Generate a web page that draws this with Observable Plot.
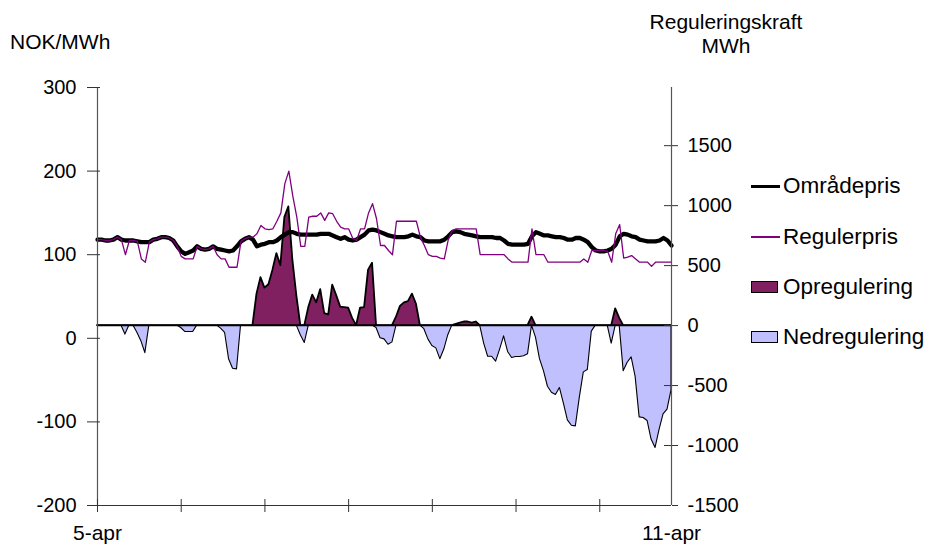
<!DOCTYPE html>
<html>
<head>
<meta charset="utf-8">
<script src="https://cdn.jsdelivr.net/npm/d3@7"></script>
<script src="https://cdn.jsdelivr.net/npm/@observablehq/plot@0.6"></script>
<style>
  body { margin: 0; background: #fff; }
  #wrap { position: relative; width: 931px; height: 545px; font-family: "Liberation Sans", Arial, sans-serif; color: #000; }
  #wrap svg { position: absolute; left: 0; top: 0; }
  .t { position: absolute; white-space: nowrap; font-size: 21px; line-height: 24px; }
  .leg { position: absolute; left: 751px; height: 30px; display: flex; align-items: center; font-size: 22.5px; white-space: nowrap; }
  .sw { width: 29px; margin-right: 3px; box-sizing: border-box; }
</style>
</head>
<body>
<div id="wrap">
  <div class="t" style="left:10px; top:30px;">NOK/MWh</div>
  <div class="t" style="left:626px; top:10px; width:200px; text-align:center;">Reguleringskraft<br>MWh</div>
  <div class="leg" style="top:171px;"><div class="sw" style="height:3px; background:#000;"></div>Områdepris</div>
  <div class="leg" style="top:222px;"><div class="sw" style="height:1.5px; background:#800080;"></div>Regulerpris</div>
  <div class="leg" style="top:272px;"><div class="sw" style="width:27px; margin-right:5px; height:12px; background:#802060; border:1px solid #000;"></div>Opregulering</div>
  <div class="leg" style="top:322px;"><div class="sw" style="width:27px; margin-right:5px; height:12px; background:#c0c0ff; border:1px solid #000;"></div>Nedregulering</div>
</div>
<script>
// Hourly series, 5 April 00:00 through 11 April 00:00 (145 hours)
const hours = d3.range(0, 145);

// Area price (NOK/MWh)
const omradepris = [
  118,118,117,117,118,121,118,117,117,117,
  116,115,115,115,118,119,121,121,120,117,
  110,104,101,103,105,110,107,106,107,110,
  107,106,105,104,105,110,116,119,121,118,
  110,112,113,115,115,117,121,124,127,127,
  125,124,124,124,124,124,125,125,125,123,
  121,119,121,118,117,118,121,124,129,130,
  129,127,125,123,122,121,121,121,122,124,
  122,121,117,116,116,116,116,118,122,127,
  128,127,125,124,123,122,121,121,121,121,
  120,120,117,113,112,112,112,112,113,122,
  127,125,123,123,122,121,121,120,118,118,
  120,120,118,115,109,105,104,104,105,107,
  112,122,125,124,122,121,118,117,116,116,
  116,117,120,117,111
];

// Balancing price (NOK/MWh)
const regulerpris = [
  118,118,117,117,118,121,118,100,117,117,
  116,95,91,115,118,119,121,121,120,117,
  110,98,95,95,95,110,107,106,107,110,
  100,95,95,85,85,85,116,119,121,121,
  125,135,131,130,131,140,150,185,200,170,
  145,110,110,145,146,146,150,141,150,149,
  140,133,131,131,120,117,131,131,150,161,
  143,111,111,105,100,140,140,140,140,140,
  140,121,111,100,98,98,96,95,118,129,
  131,131,131,131,131,131,100,100,100,100,
  100,100,100,95,91,91,91,91,91,131,
  100,100,100,91,91,91,91,91,91,91,
  91,91,95,91,105,105,105,105,104,91,
  125,136,96,97,99,95,91,91,91,86,
  91,91,91,91,91
];

// Upward regulation (MWh)
const opregulering = [
  0,0,0,0,0,0,0,0,0,0,
  0,0,0,0,0,0,0,0,0,0,
  0,0,0,0,0,0,0,0,0,0,
  0,0,0,0,0,0,0,0,0,0,
  260,400,312,340,460,600,500,900,990,550,
  250,0,0,150,254,190,300,100,90,337,
  250,154,150,146,60,0,146,150,462,520,
  0,0,0,0,0,70,160,190,200,262,
  180,0,0,0,0,0,0,0,0,0,
  10,20,30,30,20,30,0,0,0,0,
  0,0,0,0,0,0,0,0,0,70,
  0,0,0,0,0,0,0,0,0,0,
  0,0,0,0,0,0,0,0,0,0,
  140,60,0,0,0,0,0,0,0,0,
  0,0,0,0,0
];

// Downward regulation (MWh)
const nedregulering = [
  0,0,0,0,0,0,0,-75,0,0,
  -60,-130,-230,0,0,0,0,0,0,0,
  0,-20,-53,-53,-53,0,0,0,0,0,
  0,-25,-60,-280,-360,-365,0,0,0,0,
  0,0,0,0,0,0,0,0,0,0,
  0,-80,-145,0,0,0,0,0,0,0,
  0,0,0,0,0,0,0,0,0,0,
  -20,-105,-115,-160,-140,0,0,0,0,0,
  0,0,-30,-115,-170,-190,-280,-200,-80,0,
  0,0,0,0,0,0,0,-150,-260,-260,
  -300,-200,-90,-220,-270,-262,-262,-255,-240,0,
  -100,-280,-380,-510,-560,-578,-520,-650,-790,-835,
  -840,-600,-390,-371,-50,0,0,0,0,-150,
  0,0,-380,-310,-265,-428,-765,-770,-795,-950,
  -1020,-870,-740,-700,-540
];

// Axis ticks and labels
const xTicks = [0, 21, 42, 63, 84, 105, 126];
const xLabelHours = [0, 144];
const xLabels = ["5-apr", "11-apr"];
const priceTicks = [-200, -100, 0, 100, 200, 300];
const mwhTicks = [-1500, -1000, -500, 0, 500, 1000, 1500];

// The MWh axis (right) shares the plot area with the price axis (left)
const priceDomain = [-200, 300];
const mwhDomain = [-1500, 1985];
const k = (priceDomain[1] - priceDomain[0]) / (mwhDomain[1] - mwhDomain[0]);
const toPrice = v => priceDomain[0] + (v - mwhDomain[0]) * k;
const toMwh = p => mwhDomain[0] + (p - priceDomain[0]) / k;
const zero = toPrice(0);

const rows = hours.map((h, i) => ({
  h,
  omr: omradepris[i],
  reg: regulerpris[i],
  op: toPrice(opregulering[i]),
  ned: toPrice(nedregulering[i])
}));

const W = 931, H = 545, mL = 97, mR = 260, mT = 87, mB = 40;
const frameW = W - mL - mR, frameH = H - mT - mB;

const chart = Plot.plot({
  width: W,
  height: H,
  marginLeft: mL,
  marginRight: mR,
  marginTop: mT,
  marginBottom: mB,
  style: { fontFamily: "'Liberation Sans', Arial, sans-serif", fontSize: "20px", color: "#000", background: "transparent", overflow: "visible" },
  x: { domain: [0, 144] },
  y: { domain: priceDomain },
  marks: [
    Plot.areaY(rows, { x: "h", y1: () => zero, y2: "ned", fill: "#c0c0ff", stroke: "#000", strokeWidth: 1.1 }),
    Plot.areaY(rows, { x: "h", y1: () => zero, y2: "op", fill: "#802060", stroke: "#000", strokeWidth: 1.8, strokeLinejoin: "round" }),
    Plot.ruleY([zero], { stroke: "#000", strokeWidth: 1.2 }),
    Plot.lineY(rows, { x: "h", y: "omr", stroke: "#000", strokeWidth: 4.3, strokeLinejoin: "round" }),
    Plot.lineY(rows, { x: "h", y: "reg", stroke: "#800080", strokeWidth: 1.3 }),
    // frame lines
    Plot.ruleX([0], { stroke: "#555", strokeWidth: 1.2 }),
    Plot.ruleX([144], { stroke: "#555", strokeWidth: 1.2 }),
    Plot.ruleY([priceDomain[0]], { stroke: "#333", strokeWidth: 1.2 }),
    // left axis
    Plot.axisY({ ticks: priceTicks, tickSize: 10, tickPadding: 11, tickFormat: d => String(d), label: null, stroke: "#333" }),
    Plot.tickY(priceTicks, { y: d => d, insetRight: frameW - 3, stroke: "#333" }),
    // right axis
    Plot.axisY({ anchor: "right", ticks: mwhTicks.map(toPrice), tickSize: 6, tickPadding: 10,
      tickFormat: d => String(Math.round(toMwh(d) / 10) * 10), label: null, stroke: "#333" }),
    Plot.tickY(mwhTicks.map(toPrice), { y: d => d, insetLeft: frameW - 7, stroke: "#333" }),
    // bottom axis
    Plot.axisX({ ticks: xTicks, tickSize: 7, tickFormat: () => "", label: null, stroke: "#333" }),
    Plot.tickX(xTicks, { x: d => d, insetTop: frameH - 6, stroke: "#333" }),
    Plot.axisX({ ticks: xLabelHours, tickSize: 0, tickPadding: 20, fontSize: 21, tickFormat: (d) => xLabels[xLabelHours.indexOf(d)], label: null })
  ]
});

document.getElementById("wrap").prepend(chart);
</script>
</body>
</html>
